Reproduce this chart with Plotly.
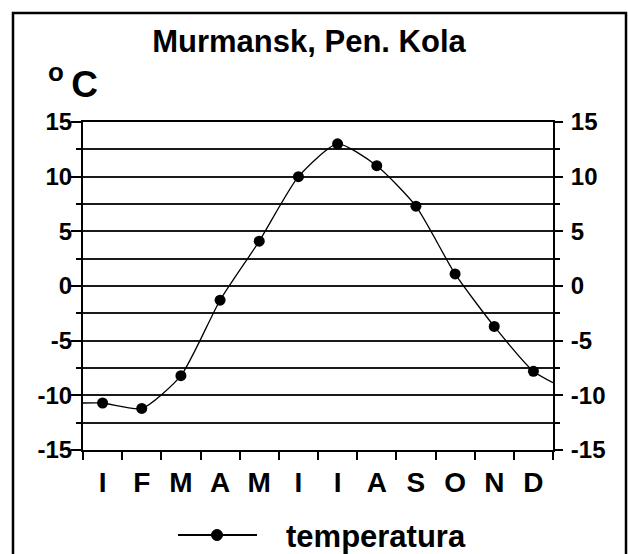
import plotly.graph_objects as go

# ---- data ----
months = ["I", "F", "M", "A", "M", "I", "I", "A", "S", "O", "N", "D"]
temperature = [-10.7, -11.2, -8.2, -1.3, 4.1, 10.0, 13.0, 11.0, 7.3, 1.1, -3.7, -7.8]
line_start_value = -10.7   # where the curve meets the left axis
line_end_value = -8.85     # where the curve meets the right axis
y_ticks = [-15, -10, -5, 0, 5, 10, 15]
y_tick_labels = ["-15", "-10", "-5", "0", "5", "10", "15"]
series_name = "temperatura"
title_text = "Murmansk, Pen. Kola"
unit_text = "<sup>o</sup>\u2009C"

W, H = 628, 554
L, R, T, B = 83, 75, 122, 104
pw, ph = W - L - R, H - T - B

def px_x(x):
    return (x - L) / pw

def px_y(y):
    return (H - B - y) / ph

xi = list(range(len(months)))
FONT = "Arial, Liberation Sans, sans-serif"

fig = go.Figure()
# curve extended to plot edges
fig.add_trace(go.Scatter(
    x=[-0.5] + xi + [len(months) - 0.5],
    y=[line_start_value] + temperature + [line_end_value],
    mode="lines", line=dict(color="black", width=1.3, shape="spline", smoothing=0.6),
    hoverinfo="skip", showlegend=False))
fig.add_trace(go.Scatter(
    x=xi, y=temperature, mode="markers", name=series_name,
    marker=dict(color="black", size=11), showlegend=False))
# invisible trace to activate right axis
fig.add_trace(go.Scatter(x=xi, y=temperature, yaxis="y2", mode="lines",
                         line=dict(width=0), opacity=0, hoverinfo="skip", showlegend=False))

axis_font = dict(family=FONT, size=24, color="black", weight=700)

fig.update_layout(
    width=W, height=H, autosize=False,
    margin=dict(l=L, r=R, t=T, b=B, pad=0),
    paper_bgcolor="white", plot_bgcolor="white",
    title=dict(text=title_text, x=309 / W, xanchor="center", y=1 - 41 / H, yanchor="middle",
               font=dict(family=FONT, size=31, color="black", weight=700)),
    xaxis=dict(range=[-0.5, len(months) - 0.5], tickmode="array", tickvals=xi, ticktext=months,
               ticks="", showgrid=False, zeroline=False, showline=True, linecolor="black",
               linewidth=2, mirror=True, ticklabelstandoff=6,
               tickfont=dict(family=FONT, size=28, color="black", weight=700),
               minor=dict(tickmode="linear", tick0=-0.5, dtick=1, ticks="outside",
                          ticklen=8, tickwidth=2, tickcolor="black", showgrid=False)),
    yaxis=dict(range=[-15, 15], tickmode="array", tickvals=y_ticks, ticktext=y_tick_labels,
               ticks="outside",
               ticklen=10, tickwidth=2, tickcolor="black", showgrid=True, gridcolor="#1a1a1a",
               gridwidth=2, zeroline=False, showline=True, linecolor="black", linewidth=2,
               tickfont=axis_font, ticklabelstandoff=-6,
               minor=dict(tickmode="linear", tick0=-15, dtick=2.5, ticks="outside", ticklen=5,
                          tickwidth=2, tickcolor="black", showgrid=True, gridcolor="#1a1a1a",
                          gridwidth=2)),
    yaxis2=dict(range=[-15, 15], overlaying="y", side="right", tickmode="array",
                tickvals=y_ticks, ticktext=y_tick_labels, ticks="outside", ticklen=8,
                tickwidth=2, tickcolor="black",
                showgrid=False, zeroline=False, showline=True, linecolor="black", linewidth=2,
                tickfont=axis_font, ticklabelstandoff=3,
                minor=dict(tickmode="linear", tick0=-15, dtick=2.5, ticks="outside", ticklen=5,
                           tickwidth=2, tickcolor="black", showgrid=False)),
    showlegend=False,
)

# outer frame
fig.add_shape(type="rect", xref="paper", yref="paper",
              x0=px_x(13), x1=px_x(626), y0=px_y(570), y1=px_y(13),
              line=dict(color="black", width=2.5), fillcolor="rgba(0,0,0,0)", layer="above")

# unit label
fig.add_annotation(text=unit_text, xref="paper", yref="paper", x=px_x(46), y=px_y(82),
                   xanchor="left", yanchor="middle", showarrow=False,
                   font=dict(family=FONT, size=37, color="black", weight=700))

# manual legend
ly = px_y(535)
fig.add_shape(type="line", xref="paper", yref="paper", x0=px_x(178), x1=px_x(257), y0=ly, y1=ly,
              line=dict(color="black", width=2))
fig.add_shape(type="circle", xref="paper", yref="paper", x0=px_x(211.5), x1=px_x(222.5),
              y0=px_y(540.5), y1=px_y(529.5), fillcolor="black", line=dict(color="black", width=1))
fig.add_annotation(text=series_name, xref="paper", yref="paper", x=px_x(284), y=px_y(536),
                   xanchor="left", yanchor="middle", showarrow=False,
                   font=dict(family=FONT, size=31, color="black", weight=700))

fig.write_html("out.html", config={"displayModeBar": False},
               post_script="document.body.style.margin='0';")
